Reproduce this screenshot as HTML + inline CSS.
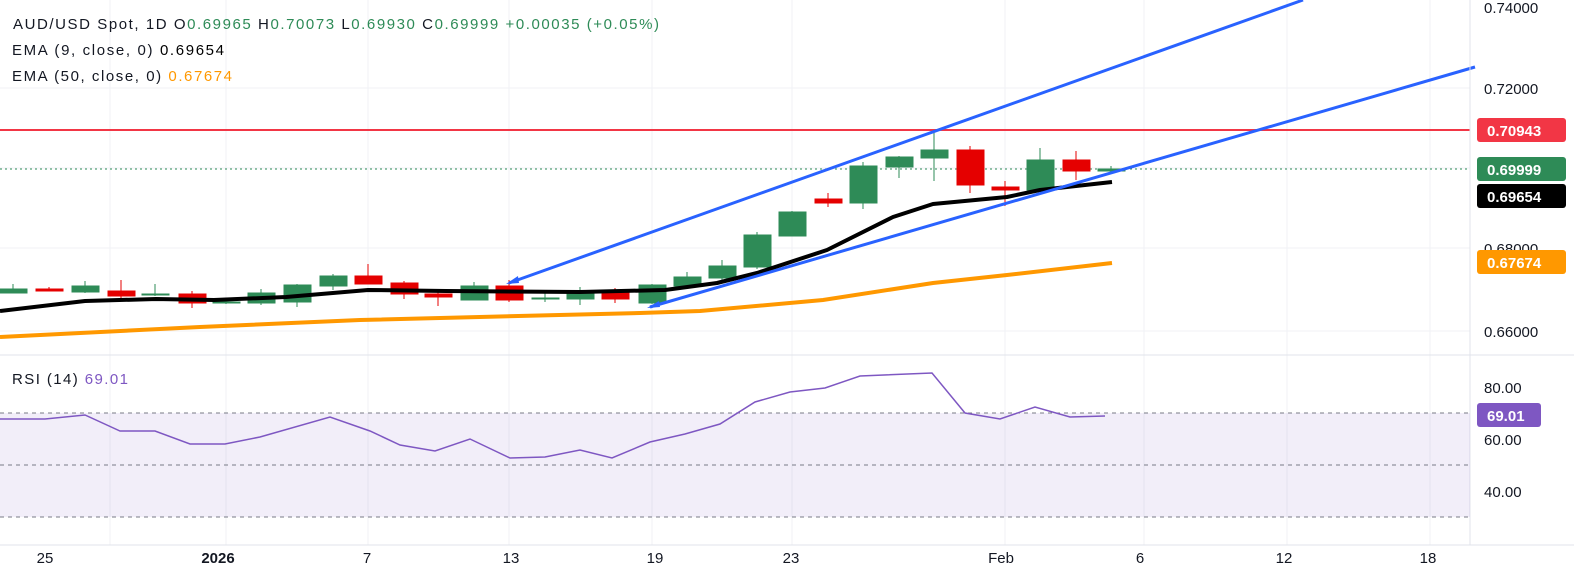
<!DOCTYPE html><html><head><style>
body{margin:0;width:1574px;height:578px;background:#fff;overflow:hidden;font-family:"Liberation Sans",sans-serif}
</style></head><body>
<svg width="1574" height="578" xmlns="http://www.w3.org/2000/svg" font-family="Liberation Sans, sans-serif">
<g stroke="#f0f2f5" stroke-width="1">
<line x1="0" y1="88" x2="1470" y2="88"/><line x1="0" y1="168" x2="1470" y2="168"/><line x1="0" y1="248" x2="1470" y2="248"/><line x1="0" y1="331" x2="1470" y2="331"/>
<line x1="110" y1="0" x2="110" y2="545"/><line x1="226" y1="0" x2="226" y2="545"/><line x1="368" y1="0" x2="368" y2="545"/><line x1="509" y1="0" x2="509" y2="545"/><line x1="652" y1="0" x2="652" y2="545"/><line x1="792" y1="0" x2="792" y2="545"/><line x1="1005" y1="0" x2="1005" y2="545"/><line x1="1144" y1="0" x2="1144" y2="545"/><line x1="1287" y1="0" x2="1287" y2="545"/><line x1="1430" y1="0" x2="1430" y2="545"/>
</g>
<line x1="0" y1="130" x2="1470" y2="130" stroke="#f23645" stroke-width="2"/>
<line x1="0" y1="169" x2="1470" y2="169" stroke="#2e8b57" stroke-width="1" stroke-dasharray="2,3"/>
<polyline fill="none" stroke="#ff9800" stroke-width="4" points="0,337 200,327 360,320 640,313 700,311 823,300 933,283 1007,275 1112,263"/>
<g>
<g stroke="#2e8b57" fill="#2e8b57"><line x1="13" y1="284" x2="13" y2="293"/><rect x="0" y="289" width="27" height="4"/></g>
<g stroke="#e50000" fill="#e50000"><line x1="49" y1="287" x2="49" y2="291"/><rect x="36" y="289" width="27" height="2"/></g>
<g stroke="#2e8b57" fill="#2e8b57"><line x1="85" y1="281" x2="85" y2="293"/><rect x="72" y="286" width="27" height="6"/></g>
<g stroke="#e50000" fill="#e50000"><line x1="121" y1="280" x2="121" y2="298"/><rect x="108" y="291" width="27" height="5"/></g>
<g stroke="#2e8b57" fill="#2e8b57"><line x1="155" y1="284" x2="155" y2="296"/><rect x="142" y="294" width="27" height="1"/></g>
<g stroke="#e50000" fill="#e50000"><line x1="192" y1="291" x2="192" y2="308"/><rect x="179" y="294" width="27" height="9"/></g>
<g stroke="#2e8b57" fill="#2e8b57"><line x1="226" y1="301" x2="226" y2="304"/><rect x="213" y="302" width="27" height="1"/></g>
<g stroke="#2e8b57" fill="#2e8b57"><line x1="261" y1="289" x2="261" y2="305"/><rect x="248" y="293" width="27" height="10"/></g>
<g stroke="#2e8b57" fill="#2e8b57"><line x1="297" y1="284" x2="297" y2="307"/><rect x="284" y="285" width="27" height="17"/></g>
<g stroke="#2e8b57" fill="#2e8b57"><line x1="333" y1="274" x2="333" y2="290"/><rect x="320" y="276" width="27" height="10"/></g>
<g stroke="#e50000" fill="#e50000"><line x1="368" y1="264" x2="368" y2="284"/><rect x="355" y="276" width="27" height="8"/></g>
<g stroke="#e50000" fill="#e50000"><line x1="404" y1="281" x2="404" y2="299"/><rect x="391" y="283" width="27" height="11"/></g>
<g stroke="#e50000" fill="#e50000"><line x1="438" y1="290" x2="438" y2="306"/><rect x="425" y="294" width="27" height="3"/></g>
<g stroke="#2e8b57" fill="#2e8b57"><line x1="474" y1="282" x2="474" y2="300"/><rect x="461" y="286" width="27" height="14"/></g>
<g stroke="#e50000" fill="#e50000"><line x1="509" y1="280" x2="509" y2="302"/><rect x="496" y="286" width="27" height="14"/></g>
<g stroke="#2e8b57" fill="#2e8b57"><line x1="545" y1="290" x2="545" y2="302"/><rect x="532" y="298" width="27" height="1"/></g>
<g stroke="#2e8b57" fill="#2e8b57"><line x1="580" y1="287" x2="580" y2="305"/><rect x="567" y="293" width="27" height="6"/></g>
<g stroke="#e50000" fill="#e50000"><line x1="615" y1="288" x2="615" y2="303"/><rect x="602" y="293" width="27" height="6"/></g>
<g stroke="#2e8b57" fill="#2e8b57"><line x1="652" y1="284" x2="652" y2="304"/><rect x="639" y="285" width="27" height="18"/></g>
<g stroke="#2e8b57" fill="#2e8b57"><line x1="687" y1="272" x2="687" y2="289"/><rect x="674" y="277" width="27" height="9"/></g>
<g stroke="#2e8b57" fill="#2e8b57"><line x1="722" y1="260" x2="722" y2="280"/><rect x="709" y="266" width="27" height="12"/></g>
<g stroke="#2e8b57" fill="#2e8b57"><line x1="757" y1="232" x2="757" y2="269"/><rect x="744" y="235" width="27" height="32"/></g>
<g stroke="#2e8b57" fill="#2e8b57"><line x1="792" y1="211" x2="792" y2="236"/><rect x="779" y="212" width="27" height="24"/></g>
<g stroke="#e50000" fill="#e50000"><line x1="828" y1="193" x2="828" y2="207"/><rect x="815" y="199" width="27" height="4"/></g>
<g stroke="#2e8b57" fill="#2e8b57"><line x1="863" y1="162" x2="863" y2="209"/><rect x="850" y="166" width="27" height="37"/></g>
<g stroke="#2e8b57" fill="#2e8b57"><line x1="899" y1="156" x2="899" y2="178"/><rect x="886" y="157" width="27" height="10"/></g>
<g stroke="#2e8b57" fill="#2e8b57"><line x1="934" y1="130" x2="934" y2="181"/><rect x="921" y="150" width="27" height="8"/></g>
<g stroke="#e50000" fill="#e50000"><line x1="970" y1="146" x2="970" y2="193"/><rect x="957" y="150" width="27" height="35"/></g>
<g stroke="#e50000" fill="#e50000"><line x1="1005" y1="181" x2="1005" y2="206"/><rect x="992" y="187" width="27" height="3"/></g>
<g stroke="#2e8b57" fill="#2e8b57"><line x1="1040" y1="148" x2="1040" y2="191"/><rect x="1027" y="160" width="27" height="30"/></g>
<g stroke="#e50000" fill="#e50000"><line x1="1076" y1="151" x2="1076" y2="180"/><rect x="1063" y="160" width="27" height="11"/></g>
<g stroke="#2e8b57" fill="#2e8b57"><line x1="1111" y1="166" x2="1111" y2="171"/><rect x="1098" y="169" width="27" height="2"/></g>
</g>
<polyline fill="none" stroke="#000" stroke-width="4" stroke-linejoin="round" points="0,311 85,301 156,299 214,300 286,297 368,290 446,291 580,292 665,290 717,283 757,273 827,250 893,217 933,204 1007,197 1040,190 1112,182"/>
<line x1="509" y1="283" x2="1303" y2="0" stroke="#2962ff" stroke-width="3"/>
<line x1="650" y1="307" x2="1475" y2="67" stroke="#2962ff" stroke-width="3"/>
<polygon points="506,284 518,276 519,283" fill="#2962ff"/>
<polygon points="647,308 659,301 660,307" fill="#2962ff"/>
<line x1="0" y1="355" x2="1574" y2="355" stroke="#e0e3eb"/>
<line x1="1470" y1="0" x2="1470" y2="545" stroke="#e0e3eb"/>
<line x1="0" y1="545" x2="1574" y2="545" stroke="#e0e3eb"/>
<rect x="0" y="413" width="1470" height="104" fill="#7e57c2" fill-opacity="0.1"/>
<g stroke="#787b86" stroke-dasharray="4,4"><line x1="0" y1="413" x2="1470" y2="413"/><line x1="0" y1="465" x2="1470" y2="465"/><line x1="0" y1="517" x2="1470" y2="517"/></g>
<polyline fill="none" stroke="#7e57c2" stroke-width="1.5" points="0,419 45,419 85,415 120,431 155,431 190,444 225,444 260,437 330,417 370,431 400,445 435,451 470,439 510,458 545,457 580,450 612,458 650,442 685,434 720,424 755,402 790,392 825,388 860,376 932,373 965,413 1000,419 1035,407 1070,417 1105,416"/>
<g font-size="15" fill="#131722">
<text x="1484" y="13">0.74000</text><text x="1484" y="94">0.72000</text><text x="1484" y="254">0.68000</text><text x="1484" y="337">0.66000</text>
<text x="1484" y="393">80.00</text><text x="1484" y="445">60.00</text><text x="1484" y="497">40.00</text>
</g>
<rect x="1477" y="118" width="89" height="24" rx="3" fill="#f23645"/><text x="1487" y="136" font-size="15" font-weight="bold" fill="#fff">0.70943</text>
<rect x="1477" y="157" width="89" height="24" rx="3" fill="#2e8b57"/><text x="1487" y="175" font-size="15" font-weight="bold" fill="#fff">0.69999</text>
<rect x="1477" y="184" width="89" height="24" rx="3" fill="#000"/><text x="1487" y="202" font-size="15" font-weight="bold" fill="#fff">0.69654</text>
<rect x="1477" y="250" width="89" height="24" rx="3" fill="#ff9800"/><text x="1487" y="268" font-size="15" font-weight="bold" fill="#fff">0.67674</text>
<rect x="1477" y="403" width="64" height="24" rx="3" fill="#7e57c2"/><text x="1487" y="421" font-size="15" font-weight="bold" fill="#fff">69.01</text>
<g font-size="15" fill="#131722" text-anchor="middle">
<text x="45" y="563">25</text><text x="218" y="563" font-weight="bold">2026</text><text x="367" y="563">7</text><text x="511" y="563">13</text><text x="655" y="563">19</text><text x="791" y="563">23</text><text x="1001" y="563">Feb</text><text x="1140" y="563">6</text><text x="1284" y="563">12</text><text x="1428" y="563">18</text>
</g>
<g font-size="15" fill="#131722">
<text x="13" y="29" textLength="646">AUD/USD Spot, 1D  O<tspan fill="#2e8b57">0.69965</tspan>  H<tspan fill="#2e8b57">0.70073</tspan>  L<tspan fill="#2e8b57">0.69930</tspan>  C<tspan fill="#2e8b57">0.69999  +0.00035 (+0.05%)</tspan></text>
<text x="12" y="55" textLength="212">EMA (9, close, 0)  <tspan fill="#000">0.69654</tspan></text>
<text x="12" y="81" textLength="220">EMA (50, close, 0)  <tspan fill="#ff9800">0.67674</tspan></text>
<text x="12" y="384" textLength="116">RSI (14)  <tspan fill="#7e57c2">69.01</tspan></text>
</g>
</svg>
</body></html>
